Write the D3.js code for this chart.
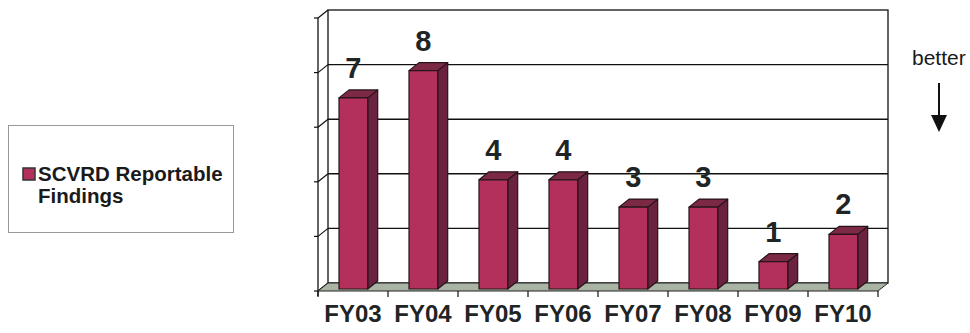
<!DOCTYPE html>
<html>
<head>
<meta charset="utf-8">
<script src="https://cdn.jsdelivr.net/npm/d3@7"></script>
<style>
  html, body { margin: 0; padding: 0; background: #fff; }
  svg { display: block; font-family: "Liberation Sans", Arial, sans-serif; }
</style>
</head>
<body>
<svg id="chart" width="970" height="333"></svg>
<script>
// ---- data ----
const categories = ["FY03", "FY04", "FY05", "FY06", "FY07", "FY08", "FY09", "FY10"];
const findings   = [7, 8, 4, 4, 3, 3, 1, 2];
const gridTicks  = [0, 2, 4, 6, 8, 10];
const seriesName = ["SCVRD Reportable", "Findings"];
const noteText   = "better";

// ---- layout ----
const svg = d3.select("#chart");
const DX = 10, DY = 8;               // 3D depth offset
const front = { left: 318, right: 878, floor: 291 };
const x = d3.scaleBand().domain(categories).range([front.left, front.right]).padding(0);
const y = d3.scaleLinear().domain([0, 10]).range([283, 10]);   // back wall
const bw = x.bandwidth();
const barX = c => x(c) + bw * 0.3;
const barW = bw * 0.41;

const colFront = "#b3305d", colSide = "#6a2240", colTop = "#7c2946", colEdge = "#261419";

// back wall
const backL = front.left + DX, backR = front.right + DX;
svg.append("rect").attr("x", backL).attr("y", y(10)).attr("width", backR - backL).attr("height", y(0) - y(10))
  .attr("fill", "#fff").attr("stroke", "#111").attr("stroke-width", 1.3);

// gridlines on back wall + left wall
gridTicks.forEach(t => {
  if (t > 0 && t < 10) {
    svg.append("line").attr("x1", backL).attr("x2", backR).attr("y1", y(t)).attr("y2", y(t))
      .attr("stroke", "#111").attr("stroke-width", 1.4);
  }
  svg.append("line").attr("x1", front.left).attr("y1", y(t) + DY).attr("x2", backL).attr("y2", y(t))
    .attr("stroke", "#111").attr("stroke-width", 1.2);
  svg.append("line").attr("x1", front.left - 4).attr("x2", front.left).attr("y1", y(t) + DY).attr("y2", y(t) + DY)
    .attr("stroke", "#111").attr("stroke-width", 1.2);
});
// left wall verticals
svg.append("line").attr("x1", front.left).attr("x2", front.left).attr("y1", y(10) + DY).attr("y2", front.floor + 5)
  .attr("stroke", "#111").attr("stroke-width", 1.3);

// floor
svg.append("path")
  .attr("d", `M${front.left},${front.floor} L${front.right},${front.floor} L${backR},${y(0)} L${backL},${y(0)} Z`)
  .attr("fill", "#a9b4a4").attr("stroke", "#222").attr("stroke-width", 1);

// x ticks
[front.left].concat(categories.map(c => x(c) + bw)).forEach(tx => {
  svg.append("line").attr("x1", tx).attr("x2", tx).attr("y1", front.floor).attr("y2", front.floor + 6)
    .attr("stroke", "#111").attr("stroke-width", 1.2);
});

// bars
const bars = svg.append("g");
categories.forEach((c, i) => {
  const v = findings[i];
  const x0 = barX(c), x1 = x0 + barW;
  const yTop = y(v) + 6, yBot = y(0) + 6;
  const g = bars.append("g").attr("stroke", colEdge).attr("stroke-width", 1.2).attr("stroke-linejoin", "round");
  g.append("path").attr("d", `M${x1},${yTop} L${x1 + DX},${yTop - DY} L${x1 + DX},${yBot - DY} L${x1},${yBot} Z`).attr("fill", colSide);
  g.append("path").attr("d", `M${x0},${yTop} L${x0 + DX},${yTop - DY} L${x1 + DX},${yTop - DY} L${x1},${yTop} Z`).attr("fill", colTop);
  g.append("rect").attr("x", x0).attr("y", yTop).attr("width", barW).attr("height", yBot - yTop).attr("fill", colFront);
  svg.append("text").attr("x", x0 + barW / 2).attr("y", yTop - 20).attr("text-anchor", "middle")
    .attr("font-size", 29).attr("font-weight", "bold").attr("fill", "#1f2524").text(v);
});

// x labels
categories.forEach(c => {
  svg.append("text").attr("x", x(c) + bw / 2).attr("y", 322).attr("text-anchor", "middle")
    .attr("font-size", 24).attr("font-weight", "bold").attr("fill", "#1f2524").text(c);
});

// legend
svg.append("rect").attr("x", 8.5).attr("y", 125.5).attr("width", 225).attr("height", 107)
  .attr("fill", "#fff").attr("stroke", "#999").attr("stroke-width", 1);
svg.append("rect").attr("x", 23).attr("y", 168).attr("width", 12).attr("height", 12)
  .attr("fill", colFront).attr("stroke", "#333").attr("stroke-width", 1.5);
seriesName.forEach((t, i) => {
  svg.append("text").attr("x", 38).attr("y", 181 + i * 22).attr("font-size", 20.5).attr("font-weight", "bold")
    .attr("fill", "#1a1a1a").text(t);
});

// "better" note with arrow
svg.append("text").attr("x", 912).attr("y", 65).attr("font-size", 21).attr("fill", "#1a1a1a").text(noteText);
svg.append("line").attr("x1", 939).attr("x2", 939).attr("y1", 83).attr("y2", 118).attr("stroke", "#111").attr("stroke-width", 2);
svg.append("path").attr("d", "M931,115 L947,115 L939,132 Z").attr("fill", "#111");
</script>
</body>
</html>
